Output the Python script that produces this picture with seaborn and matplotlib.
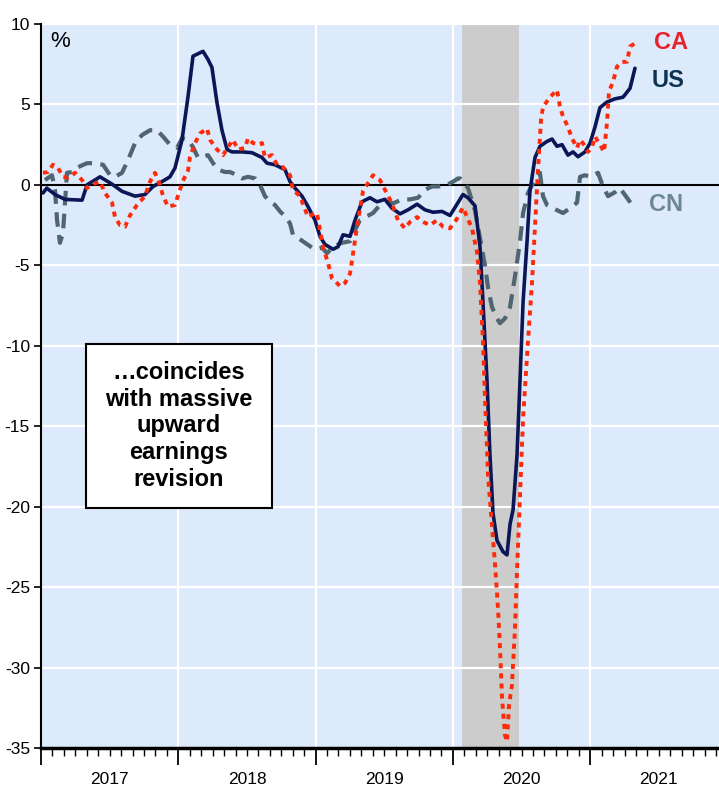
import numpy as np
import pandas as pd
import matplotlib
matplotlib.use("Agg")
import matplotlib.pyplot as plt
import matplotlib.transforms as mtransforms
from matplotlib.patches import Rectangle
from matplotlib.ticker import FixedLocator, NullFormatter
import seaborn as sns

sns.set_theme(style="white")
plt.rcParams['font.family'] = ['Liberation Sans', 'DejaVu Sans']
plt.rcParams['axes.unicode_minus'] = False

# ---- data (time in decimal years, values in %) ----
us_t = [2017.015, 2017.042, 2017.102, 2017.175, 2017.299, 2017.335, 2017.430, 2017.517, 2017.590,
        2017.685, 2017.757, 2017.816, 2017.881, 2017.939, 2017.976, 2018.027, 2018.071, 2018.107,
        2018.143, 2018.180, 2018.216, 2018.245, 2018.282, 2018.318, 2018.355, 2018.391, 2018.464,
        2018.537, 2018.610, 2018.646, 2018.704, 2018.777, 2018.814, 2018.850, 2018.901, 2018.945,
        2018.996, 2019.032, 2019.068, 2019.127, 2019.163, 2019.200, 2019.251, 2019.287, 2019.338,
        2019.396, 2019.447, 2019.505, 2019.556, 2019.615, 2019.673, 2019.739, 2019.797, 2019.855,
        2019.921, 2019.979, 2020.030, 2020.073, 2020.110, 2020.161, 2020.197, 2020.219, 2020.248,
        2020.270, 2020.292, 2020.321, 2020.365, 2020.394, 2020.416, 2020.438, 2020.467, 2020.489,
        2020.511, 2020.540, 2020.561, 2020.598, 2020.634, 2020.685, 2020.722, 2020.758, 2020.795,
        2020.838, 2020.875, 2020.911, 2020.962, 2020.999, 2021.035, 2021.071, 2021.122, 2021.181,
        2021.239, 2021.290, 2021.326]
us_v = [-0.5, -0.2, -0.6, -0.9, -0.95, 0.0, 0.5, 0.05, -0.4,
        -0.7, -0.6, -0.1, 0.2, 0.5, 1.05, 2.8, 5.5, 8.0,
        8.15, 8.3, 7.8, 7.3, 5.1, 3.4, 2.2, 2.05, 2.05,
        2.0, 1.7, 1.35, 1.25, 0.95, 0.2, -0.2, -0.7, -1.35,
        -2.2, -3.2, -3.7, -4.0, -3.85, -3.1, -3.2, -2.2, -1.05,
        -0.8, -1.05, -0.9, -1.45, -1.8, -1.55, -1.2, -1.55, -1.7,
        -1.65, -1.9, -1.2, -0.6, -0.8, -1.3, -3.8, -7.3, -12.1,
        -16.8, -20.4, -22.1, -22.8, -23.0, -21.1, -20.2, -16.8, -12.1,
        -7.3, -3.5, -0.4, 1.7, 2.4, 2.7, 2.85, 2.4, 2.5,
        1.85, 2.05, 1.75, 2.05, 2.6, 3.6, 4.8, 5.15, 5.35,
        5.45, 6.0, 7.25]

ca_t = [2017.015, 2017.051, 2017.087, 2017.124, 2017.160, 2017.197, 2017.248, 2017.299, 2017.335,
        2017.379, 2017.430, 2017.466, 2017.517, 2017.539, 2017.575, 2017.612, 2017.648, 2017.699,
        2017.757, 2017.794, 2017.830, 2017.867, 2017.889, 2017.925, 2017.976, 2018.012, 2018.034,
        2018.071, 2018.085, 2018.122, 2018.158, 2018.209, 2018.231, 2018.282, 2018.326, 2018.362,
        2018.398, 2018.435, 2018.486, 2018.508, 2018.544, 2018.580, 2018.610, 2018.631, 2018.682,
        2018.719, 2018.763, 2018.814, 2018.835, 2018.886, 2018.945, 2018.996, 2019.010, 2019.032,
        2019.054, 2019.090, 2019.119, 2019.156, 2019.178, 2019.214, 2019.251, 2019.265, 2019.287,
        2019.309, 2019.345, 2019.381, 2019.418, 2019.469, 2019.505, 2019.556, 2019.600, 2019.651,
        2019.688, 2019.739, 2019.782, 2019.833, 2019.884, 2019.928, 2019.979, 2020.030, 2020.073,
        2020.139, 2020.176, 2020.197, 2020.219, 2020.234, 2020.256, 2020.285, 2020.307, 2020.329,
        2020.343, 2020.358, 2020.379, 2020.394, 2020.409, 2020.430, 2020.452, 2020.467, 2020.489,
        2020.511, 2020.547, 2020.576, 2020.598, 2020.620, 2020.642, 2020.656, 2020.707, 2020.758,
        2020.780, 2020.802, 2020.838, 2020.867, 2020.904, 2020.926, 2020.947, 2020.984, 2021.013,
        2021.035, 2021.071, 2021.101, 2021.122, 2021.137, 2021.166, 2021.195, 2021.232, 2021.268,
        2021.290, 2021.326]
ca_v = [0.75, 0.8, 1.25, 1.05, 0.5, 0.45, 0.75, 0.3, -0.2,
        0.05, 0.2, -0.5, -1.1, -2.0, -2.5, -2.6, -1.9, -1.25,
        -0.7, 0.2, 0.75, 0.0, -0.7, -1.35, -1.25, -0.3, 0.25,
        0.9, 1.75, 2.6, 3.2, 3.5, 2.8, 2.2, 1.85, 2.35,
        2.8, 2.2, 2.3, 2.9, 2.6, 2.5, 2.6, 1.7, 1.85,
        1.25, 1.1, 0.6, -0.3, -0.7, -2.0, -1.75, -1.75, -2.8,
        -3.85, -4.85, -5.8, -6.1, -6.3, -6.1, -5.5, -4.7, -3.4,
        -2.2, -0.4, 0.1, 0.6, 0.3, -0.3, -1.15, -2.2, -2.7,
        -2.3, -2.0, -2.3, -2.5, -2.2, -2.6, -2.7, -2.1, -1.4,
        -2.7, -4.2, -6.1, -9.7, -13.3, -18.1, -21.2, -23.6, -26.4,
        -28.8, -31.9, -34.2, -34.6, -32.3, -31.1, -27.6, -24.0, -19.3,
        -14.5, -9.7, -6.1, -2.6, 1.0, 4.05, 4.85, 5.45, 5.9,
        4.85, 4.25, 3.6, 2.9, 2.3, 2.8, 2.6, 2.05, 2.35,
        3.0, 2.5, 2.05, 3.85, 5.8, 6.4, 7.35, 7.65, 7.65,
        8.6, 8.8]

cn_t = [2017.029, 2017.080, 2017.102, 2017.117, 2017.138, 2017.160, 2017.175, 2017.189, 2017.226,
        2017.269, 2017.335, 2017.393, 2017.452, 2017.503, 2017.539, 2017.590, 2017.634, 2017.685,
        2017.736, 2017.794, 2017.845, 2017.889, 2017.939, 2017.991, 2018.027, 2018.071, 2018.107,
        2018.143, 2018.180, 2018.216, 2018.253, 2018.289, 2018.340, 2018.377, 2018.428, 2018.464,
        2018.508, 2018.559, 2018.595, 2018.631, 2018.668, 2018.704, 2018.741, 2018.777, 2018.814,
        2018.835, 2018.872, 2018.923, 2018.974, 2019.017, 2019.047, 2019.083, 2019.127, 2019.192,
        2019.251, 2019.287, 2019.323, 2019.374, 2019.418, 2019.469, 2019.520, 2019.564, 2019.629,
        2019.688, 2019.746, 2019.797, 2019.848, 2019.891, 2019.957, 2020.001, 2020.037, 2020.052,
        2020.110, 2020.161, 2020.197, 2020.234, 2020.256, 2020.285, 2020.321, 2020.343, 2020.379,
        2020.416, 2020.452, 2020.489, 2020.511, 2020.547, 2020.583, 2020.634, 2020.656, 2020.685,
        2020.729, 2020.802, 2020.853, 2020.904, 2020.926, 2020.962, 2020.999, 2021.057, 2021.093,
        2021.130, 2021.181, 2021.217, 2021.268, 2021.305]
cn_v = [0.3, 0.6, -0.3, -2.2, -3.6, -3.0, -1.1, 0.75, 0.8,
        1.1, 1.35, 1.35, 1.25, 0.6, 0.5, 0.75, 1.55, 2.6,
        3.1, 3.4, 3.4, 3.0, 2.5, 2.3, 2.9, 2.8, 2.35,
        1.7, 1.75, 1.85, 1.35, 0.95, 0.8, 0.8, 0.6, 0.4,
        0.5, 0.4, 0.0, -0.7, -1.05, -1.25, -1.65, -1.95, -2.4,
        -3.1, -3.3, -3.6, -3.9, -4.0, -3.9, -4.25, -3.85, -3.6,
        -3.5, -2.8, -2.2, -1.95, -1.75, -1.25, -1.05, -1.15, -0.9,
        -0.9, -0.8, -0.3, -0.1, -0.1, 0.0, 0.2, 0.4, 0.4,
        -0.2, -1.6, -3.3, -5.0, -6.4, -7.6, -8.3, -8.6, -8.3,
        -7.6, -5.7, -3.5, -1.75, -0.5, 0.1, 0.75, -0.7, -1.25,
        -1.45, -1.75, -1.45, -1.1, 0.5, 0.6, 0.5, 0.75, -0.1,
        -0.7, -0.45, -0.2, -0.8, -1.25]

recession_start = 2020.066
recession_end = 2020.481
years = [2017, 2018, 2019, 2020, 2021]
y_ticks = [10, 5, 0, -5, -10, -15, -20, -25, -30, -35]
box_text = "\u2026coincides\nwith massive\nupward\nearnings\nrevision"

# ---- colours ----
c_us = "#0B1657"
c_ca = "#FF2A0A"
c_cn = "#4F6670"
bg = "#DDEAFB"

fig = plt.figure(figsize=(7.19, 7.88), dpi=100)
ax = fig.add_axes([41 / 719, 40 / 788, 678 / 719, 724 / 788])
ax.set_facecolor(bg)

ax.axvspan(recession_start, recession_end, color="#CCCCCC", lw=0, zorder=0.2)

df_us = pd.DataFrame({"t": us_t, "v": us_v})
df_ca = pd.DataFrame({"t": ca_t, "v": ca_v})
df_cn = pd.DataFrame({"t": cn_t, "v": cn_v})

ax.axhline(0, color="black", lw=1.5, zorder=1.5)
sns.lineplot(data=df_cn, x="t", y="v", ax=ax, color=c_cn, lw=3.0,
             dashes=False, zorder=2, estimator=None)
ax.lines[-1].set_dashes((3.5, 2.0))
sns.lineplot(data=df_us, x="t", y="v", ax=ax, color=c_us, lw=2.6,
             zorder=3, estimator=None)
sns.lineplot(data=df_ca, x="t", y="v", ax=ax, color=c_ca, lw=2.8,
             zorder=4, estimator=None)
ax.lines[-1].set_dashes((1.3, 1.3))

ax.set_xlim(2017.0, 2017 + 678 / 137.3)
ax.set_ylim(-35, 10)
ax.set_xlabel("")
ax.set_ylabel("")

ax.set_yticks(y_ticks)
ax.set_yticklabels([str(v) for v in y_ticks], fontsize=12.5)
ax.xaxis.set_major_locator(FixedLocator(years + [2022]))
ax.xaxis.set_minor_locator(FixedLocator(list(np.arange(2017, 2022, 1 / 12))))
ax.xaxis.set_major_formatter(NullFormatter())
ax.tick_params(axis="y", which="major", left=True, direction="out", length=5,
               width=1.2, color="black", pad=3, labelcolor="black")
ax.tick_params(axis="x", which="major", bottom=True, direction="out", length=12,
               width=1.3, color="black")
ax.tick_params(axis="x", which="minor", bottom=True, direction="out", length=6,
               width=1.0, color="black")

ax.grid(True, which="major", color="white", lw=1.6)
ax.set_axisbelow(True)

for s in ["top", "right"]:
    ax.spines[s].set_visible(False)
ax.spines["left"].set_color("black")
ax.spines["left"].set_linewidth(1.5)
ax.spines["bottom"].set_color("black")
ax.spines["bottom"].set_linewidth(2.5)

trans = mtransforms.blended_transform_factory(ax.transData, ax.transAxes)
for yr in years:
    ax.text(yr + 0.5, -0.043, str(yr), transform=trans, ha="center", va="center",
            fontsize=12.5, color="black", clip_on=False)

ax.text(0.028, 0.9765, "%", transform=ax.transAxes, ha="center", va="center",
        fontsize=16, color="black")

ax.text(2021.588, 8.83, "CA", color="#E8232D", fontsize=17, fontweight="bold",
        ha="center", va="center")
ax.text(2021.567, 6.46, "US", color="#0E3352", fontsize=17, fontweight="bold",
        ha="center", va="center")
ax.text(2021.552, -1.24, "CN", color="#6E8893", fontsize=17, fontweight="bold",
        ha="center", va="center")

ax.add_patch(Rectangle((0.0664, 0.3315), 0.2743, 0.2265, transform=ax.transAxes,
                       facecolor="white", edgecolor="black", lw=1.5, zorder=5))
ax.text(0.2035, 0.4448, box_text, transform=ax.transAxes, ha="center", va="center",
        fontsize=17, fontweight="bold", color="black", linespacing=1.2, zorder=6)

fig.savefig("out.png", dpi=100, facecolor="white")
